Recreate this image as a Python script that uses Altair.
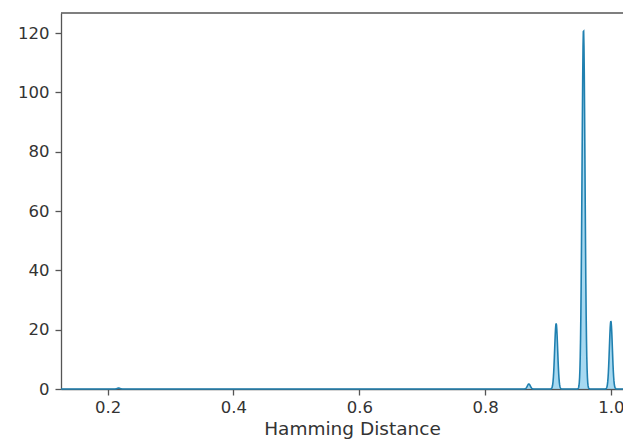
import altair as alt
import numpy as np
import pandas as pd

# Hamming distances observed (k/23) and how many pairs fall at each
distance_values = [0.2174, 0.8696, 0.9130, 0.9565, 1.0000]
pair_counts = [3, 17, 221, 1212, 229]

x_ticks = [0.2, 0.4, 0.6, 0.8, 1.0]
y_ticks = [0, 20, 40, 60, 80, 100, 120]

W, H = 562, 376
x_domain = [0.1258, 0.1258 + W / 629]
y_domain = [0, 126.8]

samples = np.repeat(distance_values, pair_counts)
df = pd.DataFrame({"distance": samples})

AX = "#555555"
LBL = "#333333"
STROKE = "#2080b0"
FILL = "#6cc0e8"

area = (
    alt.Chart(df)
    .transform_density(
        "distance",
        as_=["distance", "density"],
        bandwidth=0.00237,
        extent=x_domain,
        steps=1800,
    )
    .mark_area(
        fill=FILL,
        fillOpacity=0.6,
        line={"color": STROKE, "strokeWidth": 1.6},
    )
    .encode(
        x=alt.X(
            "distance:Q",
            scale=alt.Scale(domain=x_domain, nice=False, zero=False),
            axis=alt.Axis(
                values=x_ticks,
                format=".1f",
                title="Hamming Distance",
                titleX=291,
                titleAlign="center",
                titleFontSize=18.5,
                titleFontWeight="normal",
                titleColor=LBL,
                titleFont="DejaVu Sans",
                titlePadding=4,
                labelPadding=4,
            ),
        ),
        y=alt.Y(
            "density:Q",
            scale=alt.Scale(domain=y_domain, nice=False),
            axis=alt.Axis(values=y_ticks, format="d", title=None, labelPadding=6),
        ),
    )
)

top_line = (
    alt.Chart(pd.DataFrame({"a": [0]}))
    .mark_rule(color=AX, strokeWidth=1.3)
    .encode(x=alt.value(0), x2=alt.value(W), y=alt.value(0))
)

chart = (
    alt.layer(area, top_line)
    .properties(
        width=W,
        height=H,
        autosize=alt.AutoSizeParams(type="none"),
        padding={"left": 53, "top": 5, "right": 0, "bottom": 54},
    )
    .configure_view(stroke=None)
    .configure_axis(
        grid=False,
        domainColor=AX,
        domainWidth=1.3,
        tickColor=AX,
        tickWidth=1.3,
        tickSize=6,
        labelFont="DejaVu Sans",
        labelFontSize=16.5,
        labelColor=LBL,
    )
)

chart.save("out.html", embed_options={"renderer": "svg", "actions": False})
